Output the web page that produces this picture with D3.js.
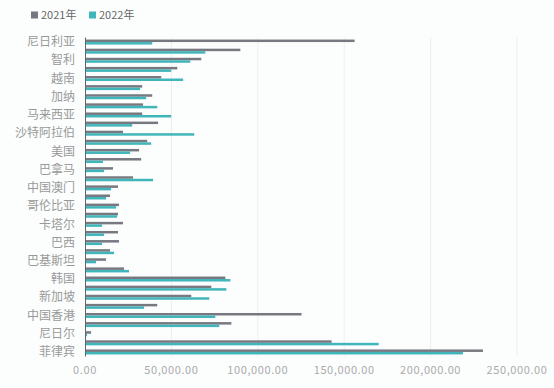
<!DOCTYPE html>
<html>
<head>
<meta charset="utf-8">
<script src="https://cdn.jsdelivr.net/npm/d3@7"></script>
<style>
  html, body { margin: 0; padding: 0; background: #fcfefe; }
  body { width: 554px; height: 388px; overflow: hidden; font-family: "Noto Sans CJK SC", "Noto Sans", sans-serif; }
</style>
</head>
<body>
<div id="chart"></div>
<script>
// Categories from bottom to top. Only every other label is shown in the original,
// the names of the hidden rows are not readable, so they get placeholders.
const categories = [
  "菲律宾", "未显示1", "尼日尔", "未显示2", "中国香港", "未显示3", "新加坡", "未显示4",
  "韩国", "未显示5", "巴基斯坦", "未显示6", "巴西", "未显示7", "卡塔尔", "未显示8",
  "哥伦比亚", "未显示9", "中国澳门", "未显示10", "巴拿马", "未显示11", "美国", "未显示12",
  "沙特阿拉伯", "未显示13", "马来西亚", "未显示14", "加纳", "未显示15", "越南", "未显示16",
  "智利", "未显示17", "尼日利亚"
];
const values2021 = [
  230300, 142700, 3500, 84700, 125300, 41800, 61500, 73100,
  81200, 22600, 12200, 14500, 19700, 19100, 22000, 19100,
  19700, 14500, 19100, 27800, 16200, 32500, 31300, 36000,
  22000, 42300, 33100, 33600, 38900, 33100, 44100, 53400,
  67300, 89900, 156000
];
const values2022 = [
  218700, 170000, 1200, 77700, 75400, 34200, 71900, 81800,
  84100, 25500, 6400, 16800, 9900, 11000, 9900, 18600,
  18000, 12200, 15100, 39400, 11000, 10400, 26100, 38300,
  63200, 27300, 49900, 41800, 35400, 31900, 56800, 49900,
  60900, 69600, 38900
];
const seriesNames = ["2021年", "2022年"];
const xTicks = [0, 50000, 100000, 150000, 200000, 250000];

const colors = ["#777880", "#40b5ba"];
const W = 554, H = 388;
const plotLeft = 85, plotRight = 517, plotTop = 37.5, plotBottom = 356.5;

const svg = d3.select("#chart").append("svg")
  .attr("width", W)
  .attr("height", H);

const x = d3.scaleLinear().domain([0, 250000]).range([plotLeft, plotRight]);
const y = d3.scaleBand().domain(categories.slice().reverse()).range([plotTop, plotBottom]);

// gridlines
svg.append("g")
  .selectAll("line")
  .data(xTicks.slice(1))
  .enter().append("line")
  .attr("x1", d => x(d)).attr("x2", d => x(d))
  .attr("y1", plotTop).attr("y2", plotBottom)
  .attr("stroke", "#eeeeee")
  .attr("stroke-width", 1);

// x tick labels
const fmt = d3.format(",.2f");
svg.append("g")
  .selectAll("text")
  .data(xTicks)
  .enter().append("text")
  .attr("x", d => x(d))
  .attr("y", 374)
  .attr("text-anchor", "middle")
  .style("font-size", "11px")
  .style("fill", "#aaaaaa")
  .style("letter-spacing", "0.6px")
  .text(d => fmt(d));

// bars
const barH = 2.5;
const rows = categories.map((c, i) => ({ name: c, v: [values2021[i], values2022[i]] }));
const rowG = svg.append("g").selectAll("g")
  .data(rows)
  .enter().append("g")
  .attr("transform", d => `translate(0,${y(d.name) + y.bandwidth() / 2})`);

seriesNames.forEach((s, k) => {
  rowG.append("rect")
    .attr("x", x(0))
    .attr("y", k === 0 ? -barH : 0)
    .attr("width", d => x(d.v[k]) - x(0))
    .attr("height", barH)
    .attr("fill", colors[k]);
});

// y axis line
svg.append("line")
  .attr("x1", plotLeft + 0.5).attr("x2", plotLeft + 0.5)
  .attr("y1", plotTop).attr("y2", plotBottom)
  .attr("stroke", "#666666")
  .attr("stroke-width", 1);

// y labels, every other one like the original
svg.append("g")
  .selectAll("text")
  .data(categories.filter((c, i) => i % 2 === 0))
  .enter().append("text")
  .attr("x", 75)
  .attr("y", d => y(d) + y.bandwidth() / 2)
  .attr("dy", "0.35em")
  .attr("text-anchor", "end")
  .style("font-size", "12px")
  .style("fill", "#999999")
  .text(d => d);

// legend
const legend = svg.append("g").attr("transform", "translate(31,15)");
const legX = [0, 58];
seriesNames.forEach((s, k) => {
  legend.append("rect")
    .attr("x", legX[k]).attr("y", -3.5)
    .attr("width", 7).attr("height", 7)
    .attr("fill", colors[k]);
  legend.append("text")
    .attr("x", legX[k] + 10).attr("y", 0)
    .attr("dy", "0.35em")
    .style("font-size", "11px")
    .style("fill", "#666666")
    .text(s);
});
</script>
</body>
</html>
